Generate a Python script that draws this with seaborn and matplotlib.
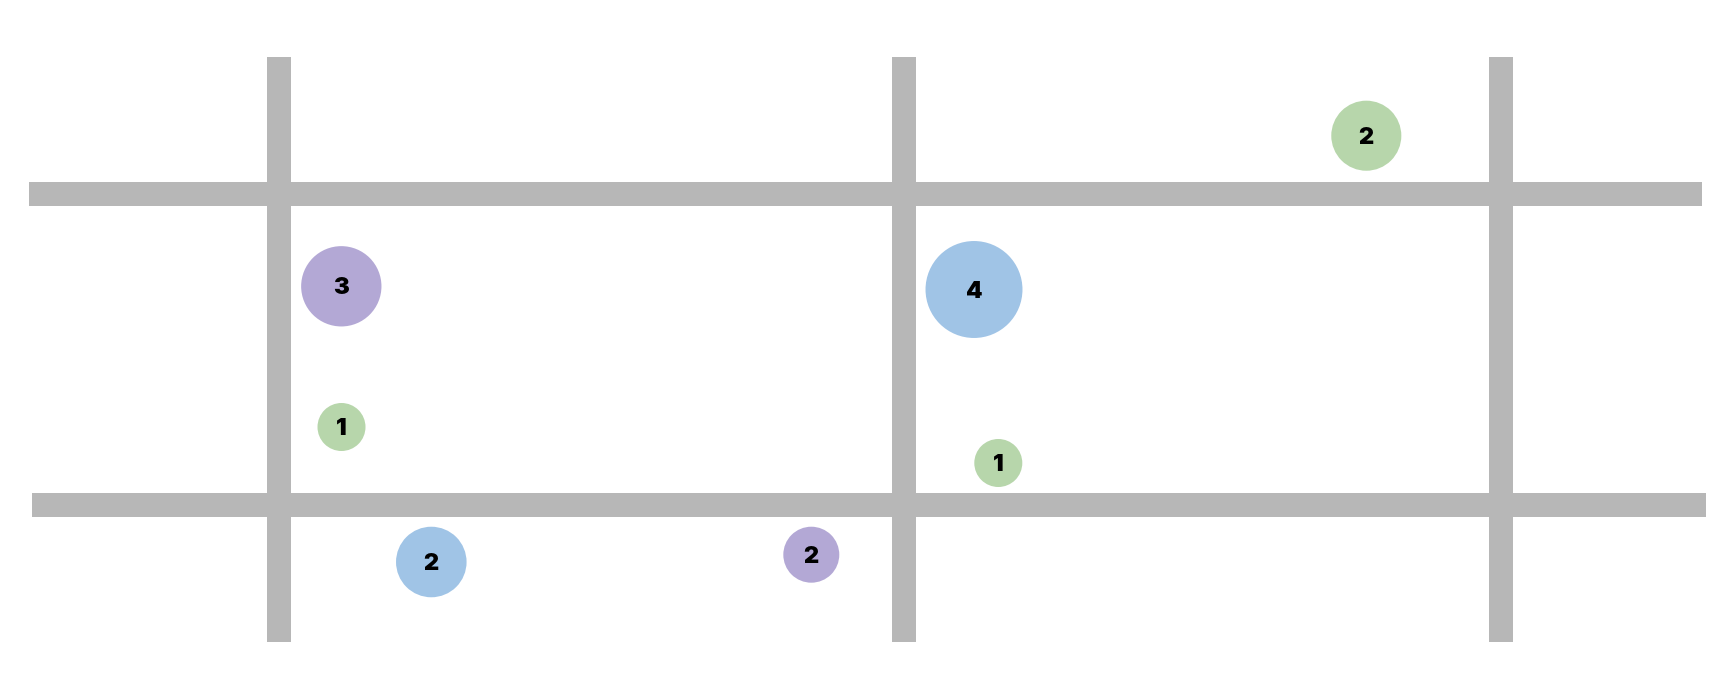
import matplotlib
matplotlib.use("Agg")
import matplotlib.pyplot as plt
import seaborn as sns
import pandas as pd

# canvas units = pixels of the 1730x682 picture, y grows downward
grid_x = [279, 903.5, 1501]          # vertical bars
grid_y_span = (57.3, 642.3)
grid_y = [194.2, 505.3]              # horizontal bars
grid_x_spans = [(29, 1702), (32, 1706)]

# bubbles
group = ["purple", "green", "blue", "green", "blue", "purple", "green"]
bx = [341.3, 341.5, 974.0, 998.3, 431.3, 811.3, 1366.3]
by = [286.3, 427.0, 289.5, 463.0, 562.0, 554.7, 135.7]
count = [3, 1, 4, 1, 2, 2, 2]
weight = [2.8, 1.0, 4.08, 1.0, 2.16, 1.36, 2.13]

palette = {"purple": "#b3a8d5", "blue": "#a0c4e6", "green": "#b7d6ab"}
grey = "#b7b7b7"

df = pd.DataFrame({"group": group, "x": bx, "y": by, "count": count, "weight": weight})

sns.set_theme(style="white")
plt.rcParams["font.family"] = ["Inter", "DejaVu Sans"]

fig = plt.figure(figsize=(17.3, 6.82), dpi=100)
ax = fig.add_axes([0, 0, 1, 1])

lw = 24 * 72 / 100  # 24 px bars
vl = ax.vlines(grid_x, grid_y_span[0], grid_y_span[1], colors=grey, linewidth=lw, zorder=1)
vl.set_capstyle("butt")
for yy, (x0, x1) in zip(grid_y, grid_x_spans):
    hl = ax.hlines(yy, x0, x1, colors=grey, linewidth=lw, zorder=1)
    hl.set_capstyle("butt")

# marker area proportional to weight; weight 1 -> 48 px diameter
k = (48 * 72 / 100) ** 2
wmin, wmax = min(weight), max(weight)
sns.scatterplot(data=df, x="x", y="y", hue="group", palette=palette,
                size="weight", sizes=(k * wmin, k * wmax), size_norm=(wmin, wmax),
                linewidth=0, alpha=1, legend=False, ax=ax, zorder=3)

for _, r in df.iterrows():
    ax.text(r["x"], r["y"] + 2, str(r["count"]), ha="center", va="center",
            fontsize=17, fontweight="black", color="black", zorder=4)

ax.set_xlim(0, 1730)
ax.set_ylim(682, 0)
ax.axis("off")

fig.savefig("out.png", dpi=100, facecolor="white")
